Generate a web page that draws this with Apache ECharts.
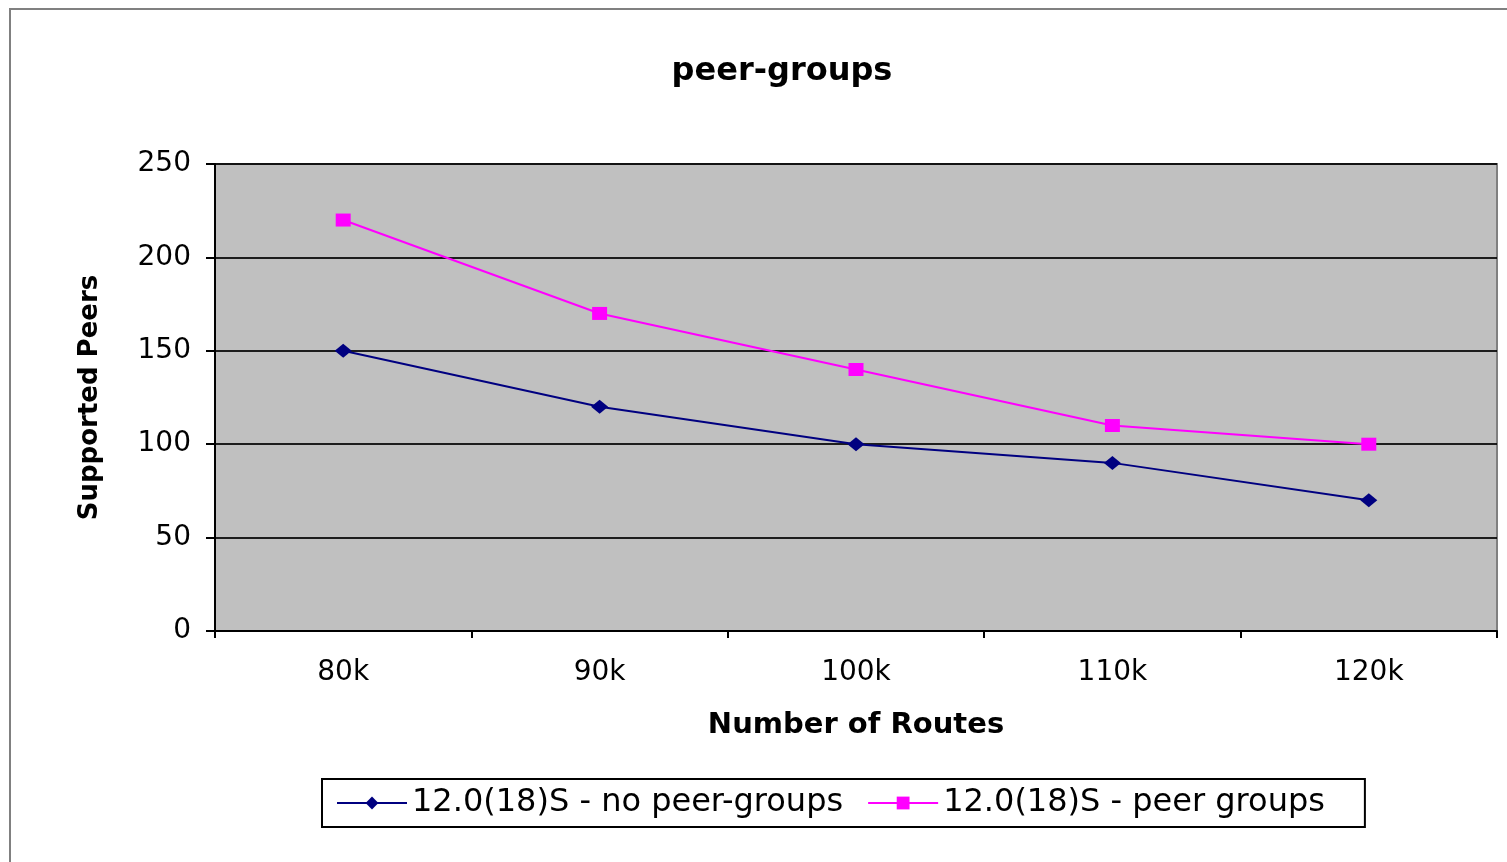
<!DOCTYPE html>
<html><head><meta charset="utf-8">
<script src="https://cdn.jsdelivr.net/npm/echarts@6/dist/echarts.min.js"></script>
<style>html,body{margin:0;padding:0;background:#fff}#c{width:1507px;height:862px}</style>
</head><body><div id="c"></div>
<script>
const categories = ['80k','90k','100k','110k','120k'];
const noPeerGroups = [150,120,100,90,70];
const peerGroups = [220,170,140,110,100];
const seriesNames = ['12.0(18)S - no peer-groups','12.0(18)S - peer groups'];

const chart = echarts.init(document.getElementById('c'));
const font = 'DejaVu Sans, Verdana, sans-serif';
chart.setOption({
  animation:false,
  backgroundColor:'#fff',
  textStyle:{fontFamily:font},
  graphic:[{type:'polyline',shape:{points:[[10,870],[10,9],[1515,9]]},style:{stroke:'#808080',lineWidth:2,fill:null}}],
  title:{text:'peer-groups',left:777,textAlign:'center',top:51,textStyle:{fontFamily:font,fontSize:32,fontWeight:'bold',color:'#000'}},
  grid:{left:215,top:164,right:10,bottom:231,show:true,backgroundColor:'#C0C0C0',borderColor:'#808080',borderWidth:2},
  legend:{left:322,top:779,orient:'horizontal',padding:[8,40,8,14],itemGap:24,
    borderColor:'#000',borderWidth:2,itemWidth:70,itemHeight:16,
    textStyle:{fontFamily:font,fontSize:32,color:'#000'},data:seriesNames},
  xAxis:{type:'category',data:categories,boundaryGap:true,
    axisLine:{lineStyle:{color:'#000',width:2}},
    axisTick:{show:true,length:7,lineStyle:{color:'#000',width:2}},
    axisLabel:{fontFamily:font,fontSize:28,color:'#000',margin:28},
    name:'Number of Routes',nameLocation:'middle',nameGap:80,
    nameTextStyle:{fontFamily:font,fontSize:29,fontWeight:'bold',color:'#000'}},
  yAxis:{type:'value',min:0,max:250,interval:50,
    axisLine:{show:true,lineStyle:{color:'#000',width:2}},
    axisTick:{show:true,length:9,lineStyle:{color:'#000',width:2}},
    axisLabel:{fontFamily:font,fontSize:28,color:'#000',margin:24},
    splitLine:{lineStyle:{color:'#000',width:2,opacity:0.85}},
    name:'Supported Peers',nameLocation:'middle',nameGap:112,
    nameTextStyle:{fontFamily:font,fontSize:26,fontWeight:'bold',color:'#000'}},
  series:[
    {name:seriesNames[0],type:'line',data:noPeerGroups,symbol:'diamond',symbolSize:[17,14],
     lineStyle:{color:'#000080',width:2},itemStyle:{color:'#000080'}},
    {name:seriesNames[1],type:'line',data:peerGroups,symbol:'rect',symbolSize:[15,13],
     lineStyle:{color:'#FF00FF',width:2},itemStyle:{color:'#FF00FF'}}
  ]
});
</script></body></html>
